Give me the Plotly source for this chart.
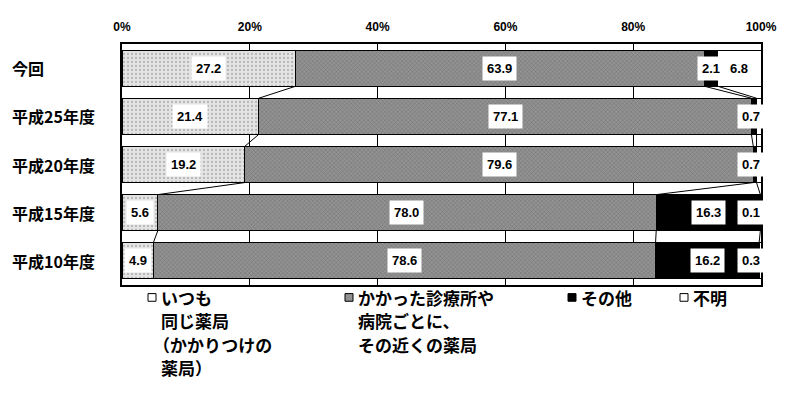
import plotly.graph_objects as go

categories = ["今回", "平成25年度", "平成20年度", "平成15年度", "平成10年度"]
series_names = ["いつも同じ薬局（かかりつけの薬局）", "かかった診療所や病院ごとに、その近くの薬局", "その他", "不明"]
always_same = [27.2, 21.4, 19.2, 5.6, 4.9]
nearby = [63.9, 77.1, 79.6, 78.0, 78.6]
other = [2.1, 0.8, 0.5, 16.3, 16.2]
unknown = [6.8, 0.7, 0.7, 0.1, 0.3]
show_other_label = [True, False, False, True, True]
tick_vals = [0, 20, 40, 60, 80, 100]
tick_text = ["0%", "20%", "40%", "60%", "80%", "100%"]
legend_lines = [
    ["いつも", "同じ薬局", "（かかりつけの", "薬局）"],
    ["かかった診療所や", "病院ごとに、", "その近くの薬局"],
    ["その他"],
    ["不明"],
]

series = [always_same, nearby, other, unknown]
styles = [
    dict(color="#e4e4e4", pattern=dict(shape=".", fgcolor="#8a8a8a", size=4, solidity=0.25)),
    dict(color="#929292", pattern=dict(shape="x", fgcolor="#303030", size=3, solidity=0.2)),
    dict(color="#000000"),
    dict(color="#ffffff"),
]
legend_fill = ["#ffffff", "#929292", "#000000", "#ffffff"]
legend_x = [160, 357, 580, 692]  # screen px of legend text starts

OFF = 8  # browser body margin
FW, FH = 792 - OFF, 401 - OFF
plot_l, plot_r, plot_t, plot_b = 122, 761, 33, 285  # screen px
pw, ph = plot_r - plot_l, plot_b - plot_t

ypos = list(range(len(categories)))
W = 0.75

fig = go.Figure()
for name, vals, st in zip(series_names, series, styles):
    fig.add_trace(go.Bar(
        y=ypos, x=vals, orientation="h", name=name, width=W,
        marker=dict(line=dict(color="#000", width=1), **st),
        showlegend=False, hoverinfo="x",
    ))

cums = []
for i in range(len(categories)):
    c, acc = [], 0
    for s in series:
        acc += s[i]
        c.append(acc)
    cums.append(c)

for k in range(3):
    xs, ys = [], []
    for i in range(len(categories) - 1):
        xs += [cums[i][k], cums[i + 1][k], None]
        ys += [i + W / 2, i + 1 - W / 2, None]
    fig.add_trace(go.Scatter(x=xs, y=ys, mode="lines", line=dict(color="#000", width=1),
                             showlegend=False, hoverinfo="skip"))

lab_font = dict(family="Liberation Sans, Arial", size=13, color="#000")
annotations = []
for i in range(len(categories)):
    starts = [0] + cums[i][:-1]
    for s_idx, s in enumerate(series):
        v = s[i]
        if s_idx == 2 and not show_other_label[i]:
            continue
        mid = starts[s_idx] + v / 2
        xpos = min(mid, 98.5)
        annotations.append(dict(
            x=xpos, y=i, xref="x", yref="y", text=f"<b>{v:.1f}</b>", showarrow=False,
            bgcolor="#ffffff", borderpad=4, font=lab_font,
        ))
    annotations.append(dict(
        x=(10 - plot_l) / pw, y=i, xref="paper", yref="y", xanchor="left",
        text=f"<b>{categories[i]}</b>", showarrow=False,
        font=dict(family="Noto Sans CJK JP", size=16, color="#000"),
    ))

leg_font = dict(family="Noto Sans CJK JP", size=17, color="#000")
shapes = []
for x0, lines, col in zip(legend_x, legend_lines, legend_fill):
    for j, line in enumerate(lines):
        px = x0 - (8 if line.startswith("（") else 0)
        py = 298 + j * 24.5
        annotations.append(dict(
            x=(px - plot_l) / pw, y=(plot_b - py) / ph, xref="paper", yref="paper",
            text=f"<b>{line}</b>", showarrow=False, xanchor="left", yanchor="middle",
            font=leg_font, borderpad=0,
        ))
    sx, sy = x0 - 12, 298
    shapes.append(dict(type="rect", xref="paper", yref="paper",
                       x0=(sx - plot_l) / pw, x1=(sx + 8 - plot_l) / pw,
                       y0=(plot_b - (sy + 4)) / ph, y1=(plot_b - (sy - 4)) / ph,
                       line=dict(color="#000", width=1), fillcolor=col))

fig.update_layout(
    barmode="stack",
    width=FW, height=FH,
    margin=dict(l=plot_l - OFF, r=FW - (plot_r - OFF), t=plot_t - OFF, b=FH - (plot_b - OFF)),
    paper_bgcolor="#ffffff", plot_bgcolor="#ffffff",
    annotations=annotations,
    shapes=shapes,
)
fig.update_xaxes(
    range=[0, 100], side="top", tickvals=tick_vals, ticktext=tick_text,
    showgrid=True, gridcolor="#000", gridwidth=1, zeroline=False,
    showline=True, linecolor="#000", linewidth=2, mirror=True,
    tickfont=dict(family="Liberation Sans, Arial", size=12, color="#000", weight="bold"),
    ticks="", ticklabelstandoff=6,
)
fig.update_yaxes(
    range=[len(categories) - 0.5, -0.5], tickvals=ypos, showticklabels=False,
    showgrid=False, zeroline=False, showline=True, linecolor="#000", linewidth=2, mirror=True,
)
fig.write_html("out.html")
